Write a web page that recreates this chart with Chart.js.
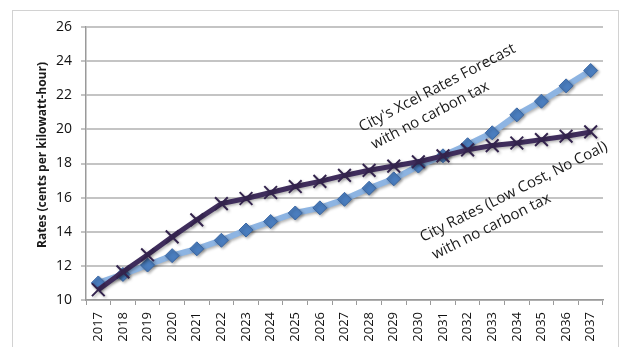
<!DOCTYPE html>
<html>
<head>
<meta charset="utf-8">
<script src="https://cdn.jsdelivr.net/npm/chart.js@4.4.1/dist/chart.umd.min.js"></script>
<style>
  html, body { margin: 0; padding: 0; background: #fff; overflow: hidden; }
  #frame { position: absolute; left: 12px; top: 10px; width: 605px; height: 400px; border: 1px solid #d2d2d2; }
  #c { position: absolute; left: 0; top: 0; }
</style>
</head>
<body>
<div id="frame"></div>
<canvas id="c" width="621" height="347"></canvas>
<script>
const years = ['2017','2018','2019','2020','2021','2022','2023','2024','2025','2026','2027','2028','2029','2030','2031','2032','2033','2034','2035','2036','2037'];
const xcelRates = [11.0, 11.5, 12.05, 12.6, 13.0, 13.5, 14.1, 14.6, 15.1, 15.4, 15.9, 16.55, 17.1, 17.85, 18.45, 19.1, 19.8, 20.85, 21.65, 22.55, 23.45];
const cityRates = [10.6, 11.65, 12.65, 13.7, 14.7, 15.65, 15.95, 16.3, 16.65, 16.95, 17.3, 17.6, 17.85, 18.1, 18.45, 18.8, 19.05, 19.2, 19.4, 19.6, 19.85];
const yMin = 10, yMax = 26, yStep = 2;
const yTitle = 'Rates (cents per kilowatt-hour)';
const xcelLabel = ["City's Xcel Rates Forecast", 'with no carbon tax'];
const cityLabel = ['City Rates (Low Cost, No Coal)', 'with no carbon tax'];

const FONT = "'Open Sans', 'Liberation Sans', sans-serif";

const shadowPlugin = {
  id: 'shadow',
  beforeDatasetDraw(chart) {
    const ctx = chart.ctx;
    ctx.save();
    ctx.shadowColor = 'rgba(0,0,0,0.30)';
    ctx.shadowBlur = 3;
    ctx.shadowOffsetX = 1.5;
    ctx.shadowOffsetY = 1.5;
  },
  afterDatasetDraw(chart) {
    chart.ctx.restore();
  }
};

const textPlugin = {
  id: 'texts',
  afterDraw(chart) {
    const ctx = chart.ctx;
    ctx.save();
    ctx.font = 'bold 12px ' + FONT;
    ctx.fillStyle = '#1a1a1a';
    ctx.textAlign = 'center';
    ctx.textBaseline = 'middle';
    ctx.translate(43, 155);
    ctx.rotate(-Math.PI / 2);
    ctx.fillText(yTitle, 0, 0);
    ctx.restore();

    const drawLabel = (lines, x, y, deg, dx2) => {
      ctx.save();
      ctx.font = '15px ' + FONT;
      ctx.fillStyle = '#1a1a1a';
      ctx.textAlign = 'left';
      ctx.textBaseline = 'alphabetic';
      ctx.translate(x, y);
      ctx.rotate(-deg * Math.PI / 180);
      ctx.fillText(lines[0], 0, 0);
      ctx.fillText(lines[1], dx2, 21);
      ctx.restore();
    };
    drawLabel(xcelLabel, 362, 132, 27.5, 3);
    drawLabel(cityLabel, 423, 242, 26.5, 3);
  }
};

new Chart(document.getElementById('c'), {
  type: 'line',
  data: {
    labels: years,
    datasets: [
      {
        label: 'Xcel',
        data: xcelRates,
        order: 2,
        borderColor: '#8db4e2',
        borderWidth: 6,
        pointStyle: 'rectRot',
        pointRadius: 7,
        pointBackgroundColor: '#4a7dbe',
        pointBorderColor: '#3b67a3',
        pointBorderWidth: 1,
        tension: 0
      },
      {
        label: 'City',
        data: cityRates,
        order: 1,
        borderColor: '#3f2d5c',
        borderWidth: 5,
        pointStyle: 'crossRot',
        pointRadius: 9,
        pointBorderColor: '#33234d',
        pointBorderWidth: 2,
        tension: 0
      }
    ]
  },
  options: {
    responsive: false,
    animation: false,
    devicePixelRatio: 1,
    layout: { padding: { top: 27, right: 18, left: 0, bottom: 0 } },
    plugins: { legend: { display: false }, tooltip: { enabled: false } },
    scales: {
      x: {
        type: 'category',
        offset: true,
        grid: { display: true, drawOnChartArea: false, drawTicks: true, tickLength: 5, offset: true, color: '#9a9a9a', lineWidth: 1 },
        border: { color: '#9a9a9a', width: 1.5 },
        ticks: { minRotation: 90, maxRotation: 90, autoSkip: false, padding: 7, color: '#111', font: { family: FONT, size: 13 } },
        afterFit(s) { s.height = 47; }
      },
      y: {
        min: yMin,
        max: yMax,
        ticks: { stepSize: yStep, padding: 9, color: '#111', font: { family: FONT, size: 14 } },
        grid: { color: '#c4c4c4', lineWidth: 2, tickLength: 5 },
        border: { color: '#9a9a9a', width: 1.5 },
        afterFit(s) { s.width = 86; }
      }
    }
  },
  plugins: [shadowPlugin, textPlugin]
});
</script>
</body>
</html>
